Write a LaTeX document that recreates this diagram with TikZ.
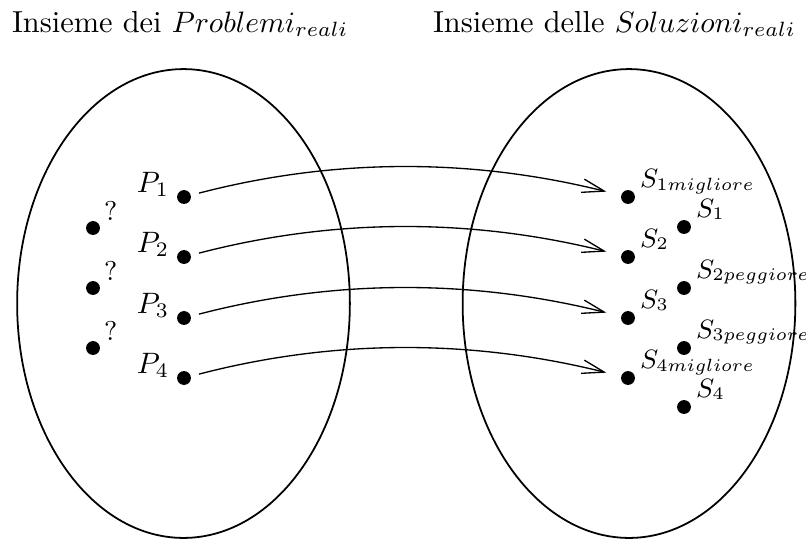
\documentclass[tikz,border=0pt]{standalone}
\usepackage{amsmath,amssymb}
\usepackage{tikz}
\usetikzlibrary{shapes.geometric, arrows.meta, positioning}

\begin{document}
\begin{tikzpicture}[
  x=0.0119cm, y=-0.0119cm,
  every node/.style={inner sep=0pt, outer sep=0pt},
  insieme/.style={ellipse, draw=black, line width=0.6pt,
                  minimum width=3.96cm, minimum height=5.58cm},
  titolo/.style={anchor=base west, font=\fontsize{10.3}{12}\selectfont},
  punto/.style={circle, fill=black, minimum size=0.165cm},
  etichp/.style={anchor=base east, font=\fontsize{9.6}{11}\selectfont},
  etich/.style={anchor=base west, font=\fontsize{9.2}{11}\selectfont},
  arr/.style={-{Straight Barb[length=7.5pt, width=4.6pt]}, line width=0.45pt,
              shorten <=2.9pt, shorten >=5.2pt}
]
  \useasboundingbox (0,0) rectangle (806,541);

  % ── Insiemi ──────────────────────────────────────────────────
  \node[insieme] (probl) at (183.5,303.5) {};
  \node[insieme] (sol)   at (629,303.5)   {};

  % ── Titoli ───────────────────────────────────────────────────
  \node[titolo] (t_probl) at (12,32)  {Insieme dei $Problemi_{reali}$};
  \node[titolo] (t_sol)   at (433,32) {Insieme delle $Soluzioni_{reali}$};

  % ── Problemi ─────────────────────────────────────────────────
  \foreach \i/\y in {1/197, 2/257, 3/318, 4/378} {
    \node[punto] (p\i) at (184,\y) {};
    \node[etichp] (lp\i) at (169,\y-5) {$P_\i$};
  }
  \foreach \i/\y in {1/228, 2/288, 3/348} {
    \node[punto] (q\i) at (93,\y) {};
    \node[etich] (lq\i) at (104,\y-8) {?};
  }

  % ── Soluzioni ────────────────────────────────────────────────
  \foreach \n/\x/\y/\t in {sm1/628/197/{$S_{1migliore}$},
                           s2/628/257/{$S_2$},
                           s3/628/318/{$S_3$},
                           sm4/628/378/{$S_{4migliore}$},
                           s1/684/227/{$S_1$},
                           sp2/684/288/{$S_{2peggiore}$},
                           sp3/684/348/{$S_{3peggiore}$},
                           s4/684/407/{$S_4$}} {
    \node[punto] (\n) at (\x,\y) {};
    \node[etich] (l\n) at (\x+12,\y-10) {\t};
  }

  % ── Frecce ───────────────────────────────────────────────────
  \foreach \a/\b in {p1/sm1, p2/s2, p3/s3, p4/sm4}
    \draw[arr] (\a) .. controls +(150,-39) and +(-157,-39) .. (\b);

\end{tikzpicture}
\end{document}
